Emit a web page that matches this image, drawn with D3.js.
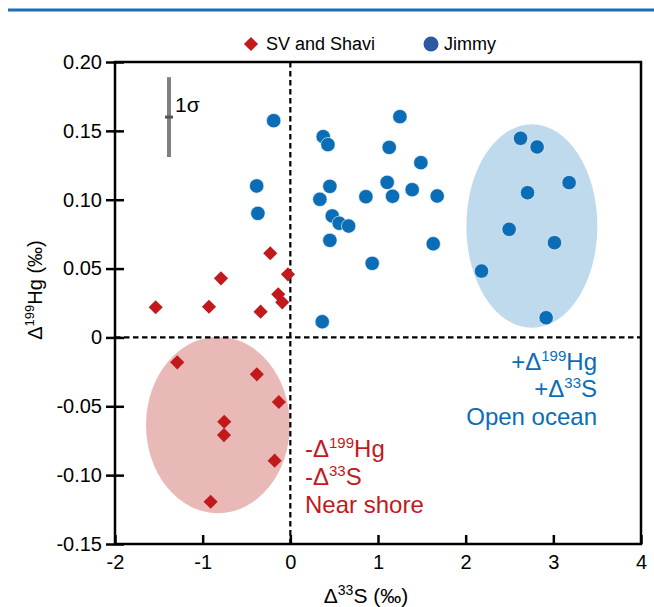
<!DOCTYPE html>
<html>
<head>
<meta charset="utf-8">
<script src="https://cdn.jsdelivr.net/npm/d3@7"></script>
<style>
  body { margin: 0; background: #fff; }
  svg { display: block; font-family: "Liberation Sans", Arial, sans-serif; }
</style>
</head>
<body>
<svg id="chart" width="654" height="607"></svg>
<script>
// axis ticks
const xTicks = [-2, -1, 0, 1, 2, 3, 4];
const xTickLabels = ["-2", "-1", "0", "1", "2", "3", "4"];
const yTicks = [-0.15, -0.10, -0.05, 0, 0.05, 0.10, 0.15, 0.20];
const yTickLabels = ["-0.15", "-0.10", "-0.05", "0", "0.05", "0.10", "0.15", "0.20"];

// [Δ33S, Δ199Hg]
const svShavi = [
    [-1.536, 0.0219], [-0.791, 0.0429], [-0.928, 0.0223], [-0.339, 0.0187],
    [-0.229, 0.0611], [-0.027, 0.0458], [-0.138, 0.0313], [-0.092, 0.0255],
    [-1.29, -0.0181], [-0.382, -0.0268], [-0.131, -0.0469], [-0.754, -0.0612],
    [-0.757, -0.0709], [-0.179, -0.0895], [-0.909, -0.1193]
];
const jimmy = [
    [-0.19, 0.1574], [-0.384, 0.110], [-0.37, 0.0901], [0.364, 0.0114],
    [1.25, 0.1603], [0.375, 0.1458], [0.429, 0.140], [1.128, 0.138],
    [1.489, 0.1269], [0.451, 0.1097], [1.105, 0.1126], [0.337, 0.1003],
    [0.862, 0.1022], [1.166, 0.1025], [1.39, 0.1073], [1.675, 0.1027],
    [0.478, 0.0882], [0.558, 0.0829], [0.665, 0.0809], [0.451, 0.0705],
    [1.63, 0.068], [0.934, 0.0538],
    [2.626, 0.1446], [2.815, 0.1383], [3.18, 0.1124], [2.706, 0.1051],
    [2.496, 0.0785], [3.013, 0.0688], [2.181, 0.0482], [2.918, 0.0143]
];

// shaded groups: [cx, cy, rx, ry] in data units
const nearShore = [-0.826, -0.0636, 0.82, 0.064];
const openOcean = [2.755, 0.0809, 0.747, 0.0739];
// 1 sigma bar: [x, y, half length]
const sigma = [-1.384, 0.16, 0.029];

const red = "#c1191c";
const blue = "#0b6db5";

const svg = d3.select("#chart");

const x = d3.scaleLinear([-2, 4], [115, 641]);
const y = d3.scaleLinear([-0.15, 0.2], [544, 62]);

// header rule
svg.append("line")
    .attr("x1", 8).attr("x2", 654)
    .attr("y1", 10).attr("y2", 10)
    .attr("stroke", "#1d6cb0")
    .attr("stroke-width", 3);

// ellipses
const ell = svg.append("g");
ell.append("ellipse")
    .attr("cx", x(nearShore[0]))
    .attr("cy", y(nearShore[1]))
    .attr("rx", x(nearShore[0] + nearShore[2]) - x(nearShore[0]))
    .attr("ry", y(nearShore[1] - nearShore[3]) - y(nearShore[1]))
    .attr("fill", "#e9b9b8");
ell.append("ellipse")
    .attr("cx", x(openOcean[0]))
    .attr("cy", y(openOcean[1]))
    .attr("rx", x(openOcean[0] + openOcean[2]) - x(openOcean[0]))
    .attr("ry", y(openOcean[1] - openOcean[3]) - y(openOcean[1]))
    .attr("fill", "#c0daed");

// zero lines
svg.append("line")
    .attr("x1", x(0)).attr("x2", x(0))
    .attr("y1", y(0.2)).attr("y2", y(-0.15))
    .attr("stroke", "#000").attr("stroke-width", 2.2)
    .attr("stroke-dasharray", "5.5,3.5");
svg.append("line")
    .attr("x1", x(-2)).attr("x2", x(4))
    .attr("y1", y(0)).attr("y2", y(0))
    .attr("stroke", "#000").attr("stroke-width", 2.2)
    .attr("stroke-dasharray", "5.5,3.5");

// frame
svg.append("rect")
    .attr("x", x(-2)).attr("y", y(0.2))
    .attr("width", x(4) - x(-2))
    .attr("height", y(-0.15) - y(0.2))
    .attr("fill", "none")
    .attr("stroke", "#000")
    .attr("stroke-width", 2.5);

// axes
const yAxis = svg.append("g")
    .attr("transform", `translate(${x(-2)},0)`)
    .call(d3.axisLeft(y)
        .tickValues(yTicks)
        .tickFormat((d, i) => yTickLabels[i])
        .tickSizeInner(9)
        .tickSizeOuter(0)
        .tickPadding(4));
yAxis.select(".domain").remove();
yAxis.selectAll(".tick line").attr("x1", 9).attr("stroke-width", 2.5);
yAxis.selectAll("text").attr("font-size", 20).attr("fill", "#000")
    .style("font-family", "'Liberation Sans', Arial, sans-serif");

const xAxis = svg.append("g")
    .attr("transform", `translate(0,${y(-0.15)})`)
    .call(d3.axisBottom(x)
        .tickValues(xTicks)
        .tickFormat((d, i) => xTickLabels[i])
        .tickSizeInner(-9)
        .tickSizeOuter(0)
        .tickPadding(11));
xAxis.select(".domain").remove();
xAxis.selectAll(".tick line").attr("stroke-width", 2.5);
xAxis.selectAll("text").attr("font-size", 20).attr("fill", "#000")
    .style("font-family", "'Liberation Sans', Arial, sans-serif");

// axis titles
const xTitle = svg.append("text")
    .attr("x", 366).attr("y", 603)
    .attr("text-anchor", "middle")
    .attr("font-size", 21);
xTitle.append("tspan").text("Δ");
xTitle.append("tspan").attr("font-size", 14).attr("dy", -8).text("33");
xTitle.append("tspan").attr("dy", 8).text("S (‰)");

const yTitle = svg.append("text")
    .attr("transform", "translate(42,290) rotate(-90)")
    .attr("text-anchor", "middle")
    .attr("font-size", 20);
yTitle.append("tspan").text("Δ");
yTitle.append("tspan").attr("font-size", 13).attr("dy", -8).text("199");
yTitle.append("tspan").attr("dy", 8).text("Hg (‰)");

// 1 sigma bar
svg.append("line")
    .attr("x1", x(sigma[0])).attr("x2", x(sigma[0]))
    .attr("y1", y(sigma[1] + sigma[2])).attr("y2", y(sigma[1] - sigma[2]))
    .attr("stroke", "#808080").attr("stroke-width", 4);
svg.append("rect")
    .attr("x", x(sigma[0]) - 4).attr("y", y(sigma[1]) - 1.5)
    .attr("width", 8).attr("height", 3)
    .attr("fill", "#555");
svg.append("text")
    .attr("x", x(sigma[0]) + 6).attr("y", y(sigma[1]) - 5)
    .attr("font-size", 21)
    .text("1σ");

// points
const diamond = d3.symbol().type(d3.symbolSquare).size(100);
svg.append("g")
    .selectAll("path")
    .data(svShavi)
    .join("path")
    .attr("d", diamond)
    .attr("transform", d => `translate(${x(d[0])},${y(d[1])}) rotate(45)`)
    .attr("fill", red);

svg.append("g")
    .selectAll("circle")
    .data(jimmy)
    .join("circle")
    .attr("cx", d => x(d[0]))
    .attr("cy", d => y(d[1]))
    .attr("r", 7.2)
    .attr("fill", blue)
    .attr("stroke", "#fff")
    .attr("stroke-width", 0.6);

// legend
const legend = svg.append("g");
legend.append("path")
    .attr("d", diamond)
    .attr("transform", "translate(251,44) rotate(45)")
    .attr("fill", red);
legend.append("text")
    .attr("x", 266).attr("y", 50)
    .attr("font-size", 18)
    .text("SV and Shavi");
legend.append("circle")
    .attr("cx", 431).attr("cy", 44).attr("r", 7.5)
    .attr("fill", "#2b59a3");
legend.append("text")
    .attr("x", 444).attr("y", 50)
    .attr("font-size", 18)
    .text("Jimmy");

// annotations
const addLines = (lines, xPos, baselines, anchor, color) => {
    lines.forEach((parts, i) => {
        const t = svg.append("text")
            .attr("x", xPos).attr("y", baselines[i])
            .attr("text-anchor", anchor)
            .attr("font-size", 24)
            .attr("fill", color);
        parts.forEach(p => {
            if (p.sup) {
                t.append("tspan").attr("font-size", 15).attr("dy", -9).text(p.sup);
            } else {
                t.append("tspan").attr("dy", p.after ? 9 : 0).text(p.text);
            }
        });
    });
};

addLines([
    [{text: "+Δ"}, {sup: "199"}, {text: "Hg", after: true}],
    [{text: "+Δ"}, {sup: "33"}, {text: "S", after: true}],
    [{text: "Open ocean"}]
], 597, [370, 397, 425], "end", blue);

addLines([
    [{text: "-Δ"}, {sup: "199"}, {text: "Hg", after: true}],
    [{text: "-Δ"}, {sup: "33"}, {text: "S", after: true}],
    [{text: "Near shore"}]
], 305, [457, 485, 513], "start", red);
</script>
</body>
</html>
